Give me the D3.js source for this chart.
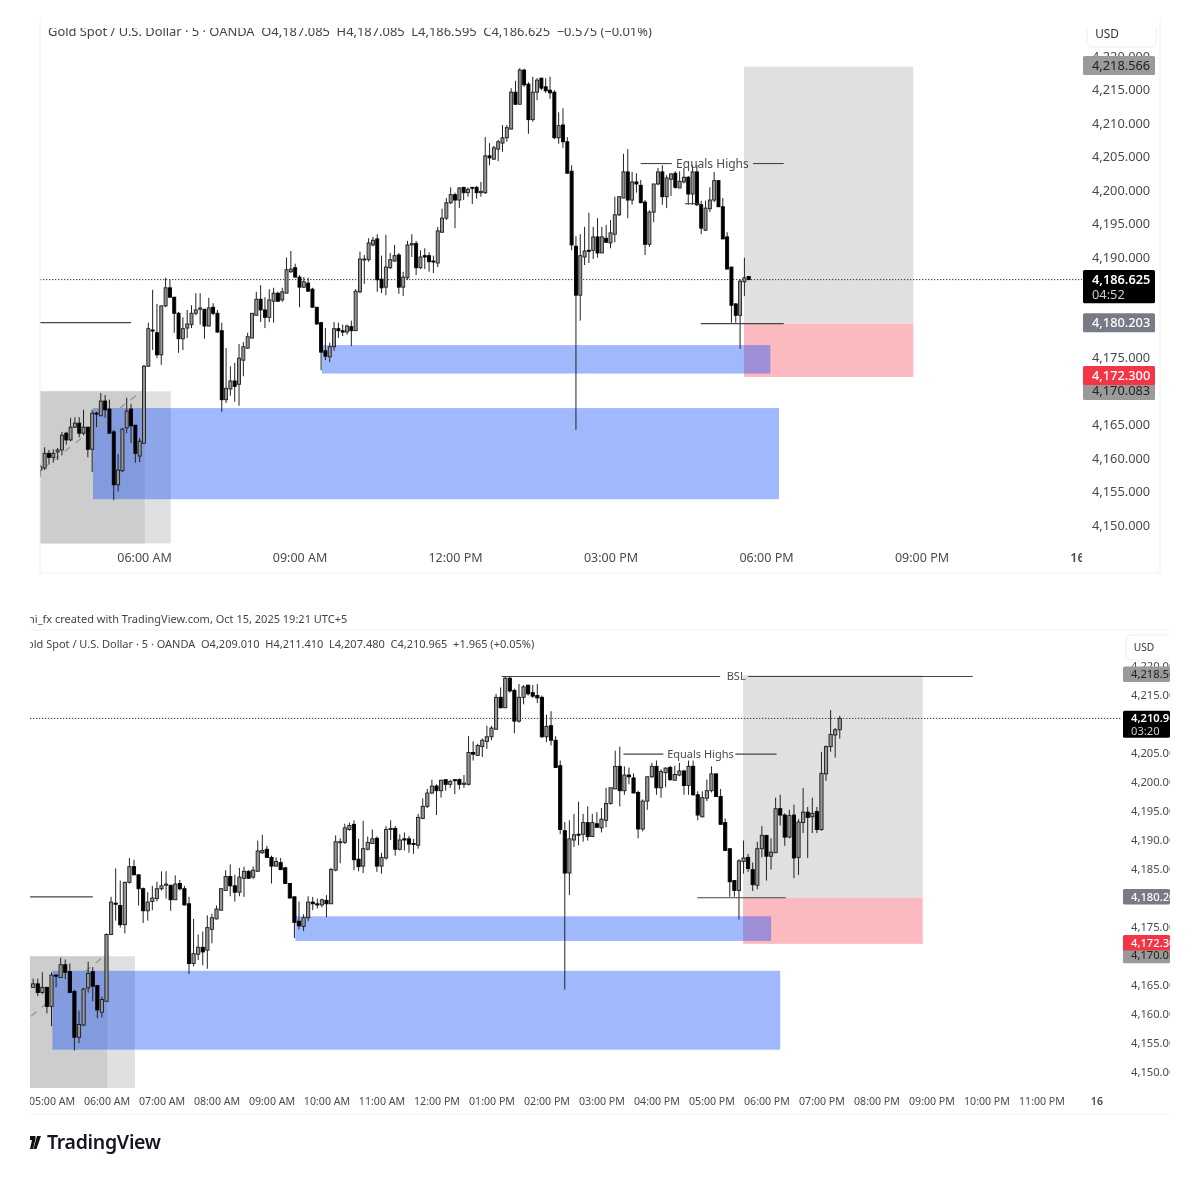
<!DOCTYPE html>
<html><head><meta charset="utf-8">
<script src="https://cdnjs.cloudflare.com/ajax/libs/d3/7.8.5/d3.min.js"></script>
<style>
html,body{margin:0;padding:0;background:#fff;}
svg{display:block;filter:blur(0.35px);}
text{font-family:"Noto Sans",sans-serif;white-space:pre;}
</style></head><body><div id="chart"></div>
<script>
// ---- data ----
const opens=[4158.2,4158.5,4160.7,4160.1,4160.9,4161.2,4163.7,4162.7,4164.6,4165.2,
4163.7,4164.6,4161.3,4166.7,4166.3,4168.5,4167.3,4163.9,4156.0,4158.1,
4164.5,4167.3,4164.9,4160.3,4162.2,4173.7,4179.1,4178.7,4175.4,4182.7,
4185.4,4184.0,4181.6,4177.8,4179.4,4179.9,4181.6,4182.2,4182.2,4179.7,
4182.5,4181.6,4179.0,4168.7,4170.3,4171.5,4171.0,4174.6,4176.4,4177.9,
4181.3,4183.7,4182.1,4181.0,4183.4,4184.6,4183.6,4184.6,4187.8,4188.4,
4187.0,4185.5,4186.1,4185.2,4182.5,4180.2,4176.0,4175.1,4176.6,4179.3,
4179.0,4178.8,4179.6,4179.0,4184.8,4189.6,4189.6,4191.8,4192.7,4186.7,
4185.5,4188.4,4189.4,4190.3,4185.5,4186.9,4191.8,4192.0,4188.4,4190.2,
4190.2,4189.4,4189.1,4193.7,4195.8,4198.1,4199.3,4198.5,4200.4,4199.6,
4200.4,4200.4,4199.6,4199.6,4205.1,4204.6,4206.1,4207.0,4207.8,4209.1,
4214.6,4212.8,4217.9,4215.8,4210.5,4214.6,4216.7,4215.4,4214.9,4214.6,
4207.8,4209.7,4207.2,4202.8,4191.6,4184.3,4190.0,4191.0,4191.0,4193.0,
4190.6,4192.8,4192.1,4193.4,4196.3,4198.8,4202.7,4198.5,4201.2,4200.7,
4198.2,4191.9,4196.7,4200.9,4202.7,4199.0,4201.6,4202.5,4200.3,4201.2,
4201.9,4199.4,4202.7,4197.8,4194.0,4197.2,4198.5,4201.4,4197.5,4193.0,
4188.5,4183.0,4181.3,4186.3,4187.0,4184.9,4182.2,4188.5,4190.8,4187.2,
4187.8,4195.4,4194.3,4190.5,4194.3,4187.0,4193.0,4194.8,4194.0,4194.9,
4191.8,4201.4,4206.1,4208.1,4209.01];
const highs=[4159.0,4161.6,4161.2,4161.3,4161.5,4163.9,4163.9,4166.0,4166.1,4166.1,
4167.2,4164.6,4167.2,4166.9,4169.7,4169.4,4168.7,4164.2,4160.6,4164.5,
4169.0,4168.1,4164.9,4163.0,4173.9,4180.2,4185.1,4183.0,4182.8,4186.9,
4186.6,4184.0,4181.8,4181.0,4182.1,4182.8,4184.6,4184.6,4182.2,4183.9,
4183.1,4182.1,4180.2,4176.4,4173.7,4174.2,4177.0,4177.3,4178.7,4181.6,
4184.8,4185.8,4184.0,4185.2,4185.4,4184.8,4185.4,4189.9,4190.9,4189.0,
4187.3,4187.0,4186.9,4185.4,4182.5,4180.3,4179.4,4177.2,4180.3,4180.2,
4179.9,4179.9,4180.5,4185.2,4190.8,4190.3,4192.8,4193.0,4193.4,4190.2,
4193.3,4190.6,4191.8,4190.6,4187.8,4192.4,4193.4,4192.4,4191.0,4191.3,
4190.7,4190.2,4194.5,4197.2,4198.8,4200.4,4199.6,4200.4,4200.4,4200.4,
4200.4,4200.6,4201.2,4207.9,4207.0,4206.6,4207.5,4209.7,4209.7,4215.2,
4216.3,4218.2,4218.1,4216.1,4216.9,4216.7,4216.7,4216.7,4216.9,4214.9,
4211.6,4212.2,4207.9,4203.7,4193.1,4193.4,4194.5,4196.6,4194.5,4195.8,
4194.5,4194.8,4195.5,4199.0,4199.0,4205.4,4206.1,4202.7,4202.5,4201.5,
4198.5,4197.0,4200.9,4203.3,4203.7,4202.2,4202.5,4202.8,4202.8,4203.3,
4202.1,4203.7,4203.7,4198.4,4198.4,4200.4,4202.7,4201.4,4198.8,4193.7,
4188.5,4183.1,4186.7,4189.9,4187.6,4186.1,4189.7,4192.4,4190.8,4190.3,
4197.3,4197.8,4194.6,4195.2,4196.1,4193.6,4199.0,4195.7,4197.3,4195.7,
4205.2,4206.3,4212.4,4209.3,4211.41];
const lows=[4157.2,4158.2,4159.0,4159.3,4159.7,4160.4,4162.0,4162.5,4164.5,4163.1,
4163.4,4160.1,4157.9,4164.6,4166.3,4166.0,4163.7,4153.7,4155.0,4157.9,
4163.7,4162.2,4159.3,4159.4,4162.1,4173.6,4176.1,4174.9,4173.9,4182.5,
4183.9,4178.7,4175.7,4176.1,4177.9,4179.4,4181.3,4179.9,4177.8,4179.7,
4181.3,4178.7,4166.9,4168.2,4169.3,4168.4,4167.8,4172.2,4176.3,4177.9,
4181.3,4180.3,4179.4,4180.3,4180.2,4183.3,4183.3,4184.6,4187.6,4186.9,
4182.5,4185.4,4184.8,4182.5,4179.9,4173.1,4174.6,4174.3,4176.0,4177.9,
4178.2,4178.4,4176.7,4179.0,4184.6,4186.0,4189.3,4191.6,4184.8,4184.6,
4184.3,4188.2,4189.3,4184.5,4184.2,4186.6,4190.0,4187.3,4188.2,4188.2,
4187.8,4187.6,4188.5,4193.6,4195.5,4197.9,4194.3,4197.3,4198.5,4199.0,
4197.9,4198.7,4199.0,4199.4,4203.7,4204.5,4204.3,4205.7,4207.2,4209.0,
4212.7,4212.8,4215.4,4208.4,4210.2,4213.4,4214.9,4214.5,4213.6,4207.6,
4206.9,4206.3,4202.5,4191.0,4164.2,4180.5,4188.8,4189.1,4189.7,4189.9,
4190.6,4192.1,4191.3,4192.2,4196.1,4198.8,4195.8,4197.8,4199.6,4198.1,
4190.3,4191.5,4195.2,4200.7,4197.8,4197.3,4199.1,4200.2,4200.3,4201.0,
4197.8,4197.8,4197.6,4193.4,4193.9,4196.7,4198.2,4197.5,4192.7,4188.2,
4180.2,4180.2,4176.3,4184.2,4184.5,4181.2,4181.5,4187.0,4183.0,4184.9,
4187.8,4192.5,4189.0,4190.3,4183.4,4184.0,4191.2,4186.9,4191.2,4191.2,
4191.6,4200.2,4205.2,4204.2,4207.48];
const closes=[4158.7,4160.7,4160.1,4160.7,4161.2,4163.4,4162.7,4164.6,4165.2,4163.7,
4164.6,4161.3,4166.7,4166.6,4168.5,4167.2,4163.7,4156.0,4158.2,4164.3,
4167.0,4164.8,4160.7,4162.5,4173.7,4179.3,4179.0,4175.4,4182.7,4185.4,
4184.0,4181.6,4177.8,4179.3,4180.0,4181.6,4182.1,4182.4,4179.7,4182.4,
4181.6,4178.8,4168.7,4170.4,4171.5,4170.7,4174.9,4176.6,4178.1,4181.6,
4183.7,4182.1,4181.0,4183.6,4184.6,4183.4,4184.8,4188.1,4188.2,4187.0,
4185.5,4186.3,4184.9,4182.5,4180.0,4175.8,4175.2,4176.6,4179.3,4179.0,
4178.8,4179.7,4179.0,4184.9,4189.7,4189.7,4192.1,4192.5,4186.6,4185.4,
4188.5,4189.6,4190.2,4185.5,4187.0,4191.8,4192.0,4188.4,4190.0,4190.0,
4189.3,4189.3,4193.9,4195.8,4198.1,4199.3,4198.5,4200.3,4199.6,4200.1,
4200.3,4199.6,4199.8,4205.1,4204.8,4206.3,4207.2,4207.8,4209.3,4214.6,
4212.8,4217.9,4215.7,4210.5,4214.6,4216.4,4215.2,4214.8,4214.5,4207.8,
4209.6,4207.2,4202.5,4191.8,4184.3,4190.2,4190.9,4190.9,4193.0,4190.6,
4193.0,4192.2,4193.6,4196.3,4199.0,4202.7,4198.5,4201.2,4200.9,4198.1,
4191.9,4196.7,4200.9,4202.7,4199.0,4201.8,4202.4,4200.4,4201.3,4201.9,
4199.4,4202.7,4197.8,4194.3,4197.3,4198.5,4201.4,4197.5,4192.7,4188.2,
4182.8,4181.3,4186.4,4186.9,4185.1,4182.3,4188.5,4190.8,4187.2,4187.9,
4195.4,4194.3,4190.5,4194.2,4186.9,4193.1,4194.8,4193.9,4194.6,4191.8,
4201.5,4206.1,4208.2,4209.0,4210.965];
// the upper snapshot was taken while this bar was still forming
const liveBarUpper={o:4187.085,h:4187.085,l:4186.595,c:4186.625};

const upperPriceTicks=[4220,4215,4210,4205,4200,4195,4190,4175,4165,4160,4155,4150];
const lowerPriceTicks=[4220,4215,4205,4200,4195,4190,4185,4175,4165,4160,4155,4150];
const upperTimeIdx=[24,60,96,132,168,204,240];
const upperTimeLabels=["06:00 AM","09:00 AM","12:00 PM","03:00 PM","06:00 PM","09:00 PM","16"];
const lowerTimeIdx=[12,24,36,48,60,72,84,96,108,120,132,144,156,168,180,192,204,216,228,240];
const lowerTimeLabels=["05:00 AM","06:00 AM","07:00 AM","08:00 AM","09:00 AM","10:00 AM","11:00 AM","12:00 PM","01:00 PM","02:00 PM","03:00 PM","04:00 PM","05:00 PM","06:00 PM","07:00 PM","08:00 PM","09:00 PM","10:00 PM","11:00 PM","16"];

const upperHeader="Gold Spot / U.S. Dollar · 5 · OANDA  O4,187.085  H4,187.085  L4,186.595  C4,186.625  −0.575 (−0.01%)";
const lowerHeader="Gold Spot / U.S. Dollar · 5 · OANDA  O4,209.010  H4,211.410  L4,207.480  C4,210.965  +1.965 (+0.05%)";
const creditLine="ni_fx created with TradingView.com, Oct 15, 2025 19:21 UTC+5";

// zones: [fromBar, toBar, topPrice, bottomPrice]
const zoneLight=[-60,30.2,4169.95,4147.25];
const zoneDark=[-60,24.15,4169.95,4147.25];
const zoneTarget=[162.9,202.1,4218.4,4180.05];
const zoneStop=[162.9,202.1,4180.05,4172.1];
const zoneBlueLow=[12.2,171,4167.45,4153.85];
const zoneBlueHigh=[65.2,169,4176.85,4172.6];

const upperLines=[[-60,21,4180.2],[152.9,172.1,4180.05],[139,146.2,4203.95],[165,172.1,4203.95],[149.2,152.7,4197.95]];
const upperLabels=[[155.6,4203.95,"Equals Highs"]];
const lowerLines=[[-60,21,4180.2],[152.9,172.2,4180.05],[136.8,145.5,4204.8],[161.2,170.2,4204.8],[110.2,157.9,4218.2],[164,213,4218.2]];
const lowerLabels=[[153.6,4204.8,"Equals Highs"],[161.4,4218.2,"BSL"]];
const upperTrend=[[0.5,4158.4],[23.5,4170]];
const lowerTrend=[[7.5,4159.6],[23.5,4170]];

const tagValues={target:4218.566,pivot:4180.203,stop:4172.300,base:4170.083};
const upperLast=[4186.625,"04:52"], lowerLast=[4210.965,"03:20"];

// ---- drawing ----
const fmt=d3.format(",.3f");
const svg=d3.select("#chart").append("svg").attr("width",1200).attr("height",1200);
svg.append("rect").attr("width",1200).attr("height",1200).attr("fill","#fff");
const defs=svg.append("defs");
const bars=opens.map((o,i)=>({i,o,h:highs[i],l:lows[i],c:closes[i]}));

function panel(cfg){
  const x=d3.scaleLinear().domain([24,240]).range(cfg.xRange);
  const y=d3.scaleLinear().domain([4215,4150]).range(cfg.yRange);
  const id=cfg.id;
  const clip=(n,l,t,r,b)=>defs.append("clipPath").attr("id",id+n).append("rect").attr("x",l).attr("y",t).attr("width",r-l).attr("height",b-t);
  clip("plot",cfg.left,cfg.top,cfg.right,cfg.bottom);
  clip("xaxis",cfg.left,cfg.bottom,cfg.right,cfg.axisBottom);
  clip("yaxis",cfg.right,cfg.top,cfg.axisRight,cfg.bottom);
  clip("head",cfg.left,cfg.headTop,cfg.right,cfg.headTop+24);
  const g=svg.append("g").attr("clip-path",`url(#${id}plot)`);
  const zone=(z,fill)=>g.append("rect").attr("x",x(z[0])).attr("width",x(z[1])-x(z[0])).attr("y",y(z[2])).attr("height",y(z[3])-y(z[2])).attr("fill",fill);
  zone(zoneLight,"#e0e0e0"); zone(zoneDark,"#cdcdcd"); zone(zoneTarget,"#e0e0e0");
  zone(zoneStop,"#fbb9c0");
  zone(zoneBlueLow,"rgba(17,77,247,0.4)"); zone(zoneBlueHigh,"rgba(17,77,247,0.4)");
  // current-price line
  g.append("line").attr("x1",cfg.left).attr("x2",cfg.right).attr("y1",y(cfg.last[0])).attr("y2",y(cfg.last[0]))
    .attr("stroke","#333").attr("stroke-width",1).attr("stroke-dasharray","1.3 1.7");
  // trend
  const tl=d3.line().x(d=>x(d[0])).y(d=>y(d[1]));
  g.append("path").attr("d",tl(cfg.trend)).attr("fill","none").attr("stroke","#9a9a9a").attr("stroke-width",1.4).attr("stroke-dasharray","7 7");
  // candles
  const data=cfg.bars;
  g.selectAll("line.wick").data(data).join("line").attr("class","wick")
    .attr("x1",d=>x(d.i)).attr("x2",d=>x(d.i)).attr("y1",d=>y(d.h)).attr("y2",d=>y(d.l))
    .attr("stroke","#222").attr("stroke-width",1);
  g.selectAll("rect.body").data(data).join("rect").attr("class","body")
    .attr("x",d=>x(d.i)-cfg.bw/2).attr("width",cfg.bw)
    .attr("y",d=>y(Math.max(d.o,d.c))).attr("height",d=>Math.max(1,Math.abs(y(d.o)-y(d.c))))
    .attr("fill",d=>d.c>=d.o?"#969696":"#000").attr("stroke",d=>d.c>=d.o?"#1c1c1c":"#000").attr("stroke-width",0.9);
  // annotation lines & labels
  g.selectAll("line.ann").data(cfg.lines).join("line").attr("class","ann")
    .attr("x1",d=>x(d[0])).attr("x2",d=>x(d[1])).attr("y1",d=>y(d[2])).attr("y2",d=>y(d[2]))
    .attr("stroke","#444").attr("stroke-width",1.1);
  g.selectAll("text.ann").data(cfg.labels).join("text").attr("class","ann")
    .attr("x",d=>x(d[0])).attr("y",d=>y(d[1])).attr("dy","0.35em").attr("text-anchor","middle")
    .attr("font-size",cfg.annFont).attr("fill","#4a4a4a").text(d=>d[2]);

  // axes
  const xa=d3.axisBottom(x).tickValues(cfg.timeIdx).tickFormat((d,i)=>cfg.timeLabels[i]).tickSize(0).tickPadding(0);
  const gx=svg.append("g").attr("clip-path",`url(#${id}xaxis)`).append("g").attr("transform",`translate(0,${cfg.xLabelY})`).call(xa);
  gx.select(".domain").remove();
  gx.selectAll("text").attr("font-size",cfg.timeFont).attr("fill","#4a4a4a").attr("y",0).attr("dy","0.35em")
    .attr("font-family",'"Noto Sans",sans-serif')
    .attr("font-weight",(d)=>d===240?600:400);
  const ya=d3.axisRight(y).tickValues(cfg.priceTicks).tickFormat(fmt).tickSize(0).tickPadding(0);
  const gy=svg.append("g").attr("clip-path",`url(#${id}yaxis)`).append("g").attr("transform",`translate(${cfg.yLabelX},0)`).call(ya);
  gy.select(".domain").remove();
  gy.selectAll("text").attr("font-size",cfg.priceFont).attr("fill","#4a4a4a").attr("font-family",'"Noto Sans",sans-serif');

  // tags on the price scale
  const ty=svg.append("g").attr("clip-path",`url(#${id}yaxis)`);
  const tag=(v,fill,col,weight,h)=>{
    ty.append("rect").attr("x",cfg.tagX).attr("width",cfg.tagW).attr("y",y(v)-h/2).attr("height",h).attr("rx",1.5).attr("fill",fill);
    ty.append("text").attr("x",cfg.yLabelX).attr("y",y(v)).attr("dy","0.35em").attr("font-size",cfg.priceFont).attr("font-weight",weight).attr("fill",col).text(fmt(v));
  };
  tag(tagValues.target,"#9a9a9a","#222",400,cfg.tagH);
  tag(tagValues.base,"#9a9a9a","#222",400,cfg.tagH);
  tag(tagValues.stop,"#f23645","#fff",500,cfg.tagH);
  tag(tagValues.pivot,"#787b86","#fff",500,cfg.tagH);
  const ly=y(cfg.last[0]);
  ty.append("rect").attr("x",cfg.tagX).attr("width",cfg.tagW).attr("y",ly-cfg.tagH/2).attr("height",cfg.tagH*1.75).attr("rx",1.5).attr("fill","#000");
  ty.append("text").attr("x",cfg.yLabelX).attr("y",ly).attr("dy","0.35em").attr("font-size",cfg.priceFont).attr("font-weight",600).attr("fill","#fff").text(fmt(cfg.last[0]));
  ty.append("text").attr("x",cfg.yLabelX).attr("y",ly+cfg.tagH*0.8).attr("dy","0.35em").attr("font-size",cfg.priceFont).attr("fill","#ccc").text(cfg.last[1]);
  // USD button
  const [bx,by,bw,bh]=cfg.usd;
  const ub=svg.append("g").attr("clip-path",`url(#${id}yaxis)`);
  ub.append("rect").attr("x",bx).attr("y",by).attr("width",bw).attr("height",bh).attr("rx",5).attr("fill","#fff").attr("stroke","#eeeeee");
  ub.append("text").attr("x",cfg.usdText[0]).attr("y",cfg.usdText[1]).attr("dy","0.35em").attr("text-anchor","middle").attr("font-size",cfg.priceFont-1).attr("fill","#333").text("USD");
  // header
  svg.append("g").attr("clip-path",`url(#${id}head)`).append("text").attr("x",cfg.headX).attr("y",cfg.headY).attr("dy","0.35em")
    .attr("font-size",cfg.headFont).attr("fill","#444").text(cfg.header);
}

panel({id:"u",left:40,right:1082,top:27,bottom:544,axisBottom:572,axisRight:1160,
  xRange:[144,1077],yRange:[89.5,525],bw:3.0,priceTicks:upperPriceTicks,
  bars:bars.slice(0,164).concat([{i:164,...liveBarUpper}]),
  lines:upperLines,labels:upperLabels,trend:upperTrend,last:upperLast,
  timeIdx:upperTimeIdx,timeLabels:upperTimeLabels,xLabelY:558,yLabelX:1092,
  timeFont:12.5,priceFont:12.8,annFont:12,tagX:1083,tagW:72,tagH:19,
  usd:[1087,18,69,29],usdText:[1107,34],header:upperHeader,headX:48,headY:31.5,headTop:28,headFont:12.9});

panel({id:"l",left:30,right:1122,top:631,bottom:1088,axisBottom:1113,axisRight:1170,
  xRange:[106.5,106.5+216*4.583],yRange:[695,1072],bw:3.2,priceTicks:lowerPriceTicks,
  bars:bars.slice(8),
  lines:lowerLines,labels:lowerLabels,trend:lowerTrend,last:lowerLast,
  timeIdx:lowerTimeIdx,timeLabels:lowerTimeLabels,xLabelY:1101,yLabelX:1131,
  timeFont:10.6,priceFont:11.2,annFont:11,tagX:1123,tagW:47,tagH:15.5,
  usd:[1126,635,60,25],usdText:[1144,647],header:lowerHeader,headX:19,headY:644,headTop:632,headFont:11});

// chrome
const rule=(x1,y1,x2,y2,c)=>svg.append("line").attr("x1",x1).attr("y1",y1).attr("x2",x2).attr("y2",y2).attr("stroke",c||"#f0f0f0").attr("stroke-width",1);
rule(40,20,40,573); rule(40,573,1160,573); rule(1160,20,1160,573);
rule(30,630,1170,630); rule(30,1114,1170,1114);
defs.append("clipPath").attr("id","credit").append("rect").attr("x",30).attr("y",608).attr("width",600).attr("height",20);
svg.append("g").attr("clip-path","url(#credit)").append("text").attr("x",28).attr("y",619).attr("dy","0.35em").attr("font-size",11).attr("fill","#444").text(creditLine);
// logo + wordmark
const logo=d3.path();
logo.moveTo(30,1136);logo.lineTo(35.5,1136);logo.lineTo(35.5,1139);logo.lineTo(33,1149);logo.lineTo(30,1149);logo.lineTo(32,1140);logo.lineTo(30,1140);logo.closePath();
logo.moveTo(37,1136);logo.lineTo(41,1136);logo.lineTo(36.5,1149);logo.lineTo(33.5,1149);logo.closePath();
svg.append("path").attr("d",logo.toString()).attr("fill","#111");
svg.append("text").attr("x",47).attr("y",1142.5).attr("dy","0.35em").attr("font-family","Inter,sans-serif").attr("font-weight",600).attr("font-size",19.5).attr("letter-spacing","-0.3").attr("fill","#131722").text("TradingView");
</script></body></html>
